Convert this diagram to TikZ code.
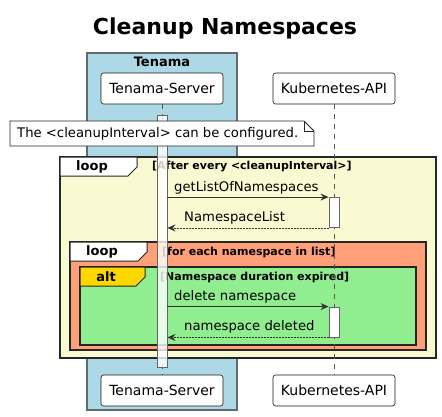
\documentclass[tikz,border=0pt]{standalone}
\usepackage{fontspec}
\setmainfont{DejaVu Sans}
\usetikzlibrary{arrows.meta}

\definecolor{tenamablue}{HTML}{ADD8E6}
\definecolor{groupgray}{HTML}{5F6B70}
\definecolor{loopyellow}{HTML}{FAFAD2}
\definecolor{loopsalmon}{HTML}{FFA07A}
\definecolor{altgreen}{HTML}{90EE90}
\definecolor{altgold}{HTML}{FFD700}
\definecolor{lifegray}{HTML}{555555}

\begin{document}
\begin{tikzpicture}[x=1pt, y=-1pt,
  participant/.style={draw=black!90, fill=white, rounded corners=2.5pt, line width=0.6pt,
    minimum width=122pt, minimum height=31pt, inner sep=0pt, font=\fontsize{14}{16}\selectfont},
  frame/.style={draw=black!85, line width=1.4pt},
  tab/.style={draw=black!85, line width=1pt},
  cond/.style={anchor=west, inner sep=0pt, font=\bfseries\fontsize{11}{13}\selectfont},
  tablabel/.style={inner sep=0pt, font=\bfseries\fontsize{13}{15}\selectfont},
  msg/.style={anchor=west, inner sep=0pt, font=\fontsize{13.2}{15}\selectfont},
  call/.style={-{Stealth[length=8pt,width=7pt]}, line width=0.8pt, draw=black!80},
  reply/.style={call, dash pattern=on 1.5pt off 1.5pt},
  lifeline/.style={draw=lifegray, line width=0.9pt, dash pattern=on 5pt off 5pt},
  activation/.style={draw=black!60, fill=white, line width=0.9pt, minimum width=10pt, inner sep=0pt}
]
  \useasboundingbox (0,0) rectangle (442,416);

  % Title
  \node[font=\bfseries\fontsize{22}{26}\selectfont] (title) at (225,28) {Cleanup Namespaces};

  % Tenama group box
  \draw[fill=tenamablue, draw=groupgray, line width=1.4pt] (87,53) rectangle (237,410);
  \node[tablabel] (grouplabel) at (162,62) {Tenama};

  % Participants
  \node[participant] (srvtop) at (162,88.5) {Tenama-Server};
  \node[participant] (k8stop) at (334,88.5) {Kubernetes-API};
  \node[participant] (srvbot) at (162,390.5) {Tenama-Server};
  \node[participant] (k8sbot) at (334,390.5) {Kubernetes-API};

  % Lifeline of the server
  \draw[lifeline] (srvtop.south) -- (srvbot.north);

  % Group frames
  \draw[frame, fill=loopyellow] (60,157) rectangle (436,358);
  \draw[tab, fill=white] (60,157) -- (137,157) -- (137,167) -- (128,176) -- (60,176) -- cycle;
  \node[tablabel] (outerloop) at (92,166.5) {loop};
  \node[cond] (outercond) at (152,167) {[After every <cleanupInterval>]};

  \draw[frame, fill=loopsalmon] (70,242) rectangle (426,350);
  \draw[tab, fill=white] (70,242) -- (147,242) -- (147,252) -- (138,261) -- (70,261) -- cycle;
  \node[tablabel] (innerloop) at (102,251.5) {loop};
  \node[cond] (innercond) at (162,252) {[for each namespace in list]};

  \draw[frame, fill=altgreen] (80,267) rectangle (416,345);
  \draw[tab, fill=altgold] (80,267) -- (145,267) -- (145,277) -- (136,286) -- (80,286) -- cycle;
  \node[tablabel] (altlabel) at (106,276.5) {alt};
  \node[cond] (altcond) at (160,277) {[Namespace duration expired]};

  % Lifeline of the API
  \draw[lifeline] (k8stop.south) -- (k8sbot.north);

  % Activation of the server
  \node[activation, minimum height=252pt, fill opacity=0.8] (srvbar) at (162,241) {};

  % Note
  \draw[fill=white, draw=black!85, line width=0.8pt] (10,121) -- (304,121) -- (314,131) -- (314,146) -- (10,146) -- cycle;
  \draw[draw=black!85, line width=0.8pt] (304,121) -- (304,131) -- (314,131);
  \node[msg] (notetext) at (17,133.5) {The <cleanupInterval> can be configured.};

  % Activations of the API
  \node[activation, minimum height=30pt] (k8sbar1) at (334,212.5) {};
  \node[activation, minimum height=30pt] (k8sbar2) at (334,322) {};

  % Messages
  \draw[call] (srvbar.east |- k8sbar1.north) -- (k8sbar1.north west);
  \node[msg] (getlist) at (174,188) {getListOfNamespaces};
  \draw[reply] (k8sbar1.south west) -- (srvbar.east |- k8sbar1.south);
  \node[msg] (nslist) at (184,218) {NamespaceList};

  \draw[call] (srvbar.east |- k8sbar2.north) -- (k8sbar2.north west);
  \node[msg] (deletens) at (174,297) {delete namespace};
  \draw[reply] (k8sbar2.south west) -- (srvbar.east |- k8sbar2.south);
  \node[msg] (nsdeleted) at (184,327) {namespace deleted};

\end{tikzpicture}
\end{document}
